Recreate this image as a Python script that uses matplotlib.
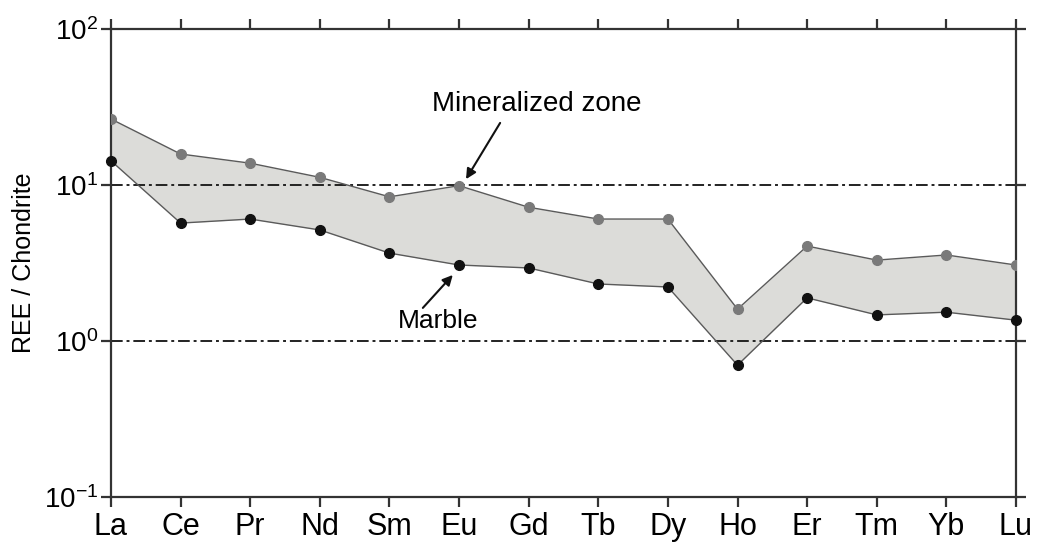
import matplotlib
matplotlib.use("Agg")
import matplotlib.pyplot as plt
from matplotlib.ticker import LogLocator, NullLocator

plt.rcParams['font.family'] = ['Liberation Sans', 'DejaVu Sans']
plt.rcParams['mathtext.fontset'] = 'custom'
plt.rcParams['mathtext.rm'] = 'Liberation Sans'
plt.rcParams['mathtext.it'] = 'Liberation Sans:italic'

elements = ['La', 'Ce', 'Pr', 'Nd', 'Sm', 'Eu', 'Gd', 'Tb', 'Dy', 'Ho', 'Er', 'Tm', 'Yb', 'Lu']
mineralized = [26.5, 15.8, 13.8, 11.2, 8.4, 9.9, 7.2, 6.05, 6.05, 1.6, 4.06, 3.3, 3.56, 3.07]
marble = [14.3, 5.7, 6.05, 5.15, 3.66, 3.07, 2.94, 2.32, 2.22, 0.70, 1.89, 1.47, 1.53, 1.36]

x = list(range(len(elements)))

fig = plt.figure(figsize=(10.38, 5.43), dpi=100)
ax = fig.add_axes([0.1069, 0.0847, 0.8719, 0.8619])

ax.fill_between(x, marble, mineralized, color='#dcdcd9', lw=0, zorder=1)
ax.plot(x, mineralized, color='#5a5a5a', lw=1.0, zorder=2)
ax.plot(x, marble, color='#5a5a5a', lw=1.0, zorder=2)
ax.plot(x, mineralized, 'o', color='#7a7a7a', ms=7, zorder=3)
ax.plot(x, marble, 'o', color='#111111', ms=7, zorder=3, clip_on=False)

for ref in (1, 10):
    ax.axhline(ref, color='#222222', lw=1.4, ls=(0, (6, 2, 1.5, 2)), zorder=1.5)

ax.set_yscale('log')
ax.set_ylim(0.1, 100)
ax.set_xlim(0, len(elements) - 1)
ax.yaxis.set_major_locator(LogLocator(base=10, numticks=10))
ax.yaxis.set_minor_locator(NullLocator())
ax.set_xticks(x)
ax.set_xticklabels(elements)

for s in ax.spines.values():
    s.set_color('#333333')
    s.set_linewidth(1.6)

ax.tick_params(axis='x', direction='out', length=7, width=1.6, color='#333333',
               labelsize=22, pad=4, top=True, labeltop=False)
ax.tick_params(axis='y', direction='out', length=7, width=1.6, color='#333333',
               labelsize=20, pad=2, right=True, labelright=False)
ax.set_ylabel('REE / Chondrite', fontsize=18, labelpad=6)

# labels and arrows
ax.text(6.12, 33.0, 'Mineralized zone', fontsize=20, ha='center', va='center')
ax.annotate('', xy=(5.10, 10.9), xytext=(5.59, 25.0),
            arrowprops=dict(arrowstyle='-|>', color='#111111', lw=1.5,
                            mutation_scale=15, shrinkA=0, shrinkB=0))
ax.text(4.70, 1.34, 'Marble', fontsize=19, ha='center', va='center')
ax.annotate('', xy=(4.91, 2.65), xytext=(4.48, 1.63),
            arrowprops=dict(arrowstyle='-|>', color='#111111', lw=1.5,
                            mutation_scale=15, shrinkA=0, shrinkB=0))

fig.savefig('out.png', dpi=100)
